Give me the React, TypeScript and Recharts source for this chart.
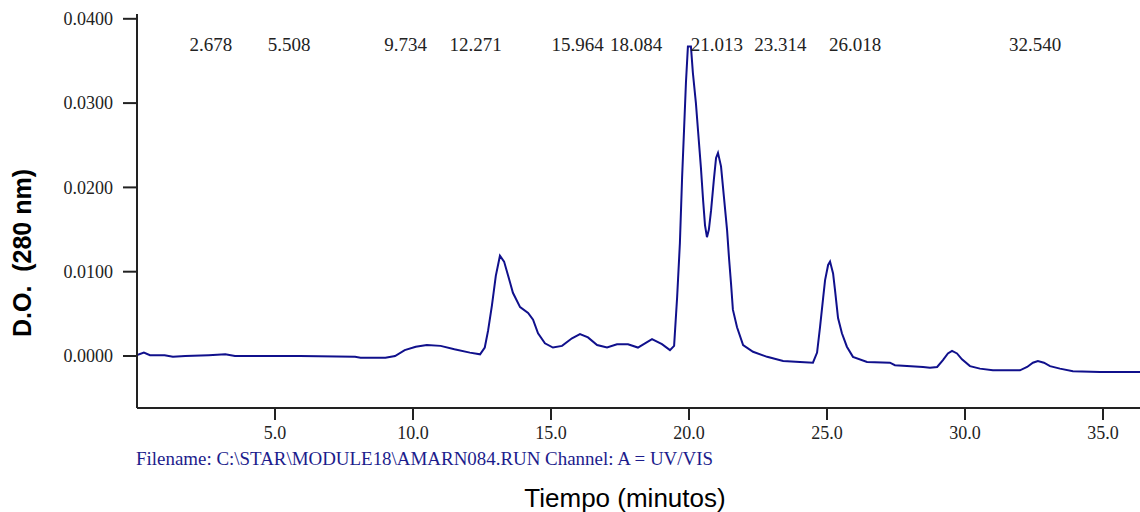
import { ComposedChart, Line, Scatter, XAxis, YAxis } from "recharts";

// retention time (min) and optical density
const times = [
  0, 0.25, 0.47, 1.0, 1.3, 1.75, 2.6, 3.2, 3.55, 5.9, 7.9, 8.1, 9.0, 9.35, 9.7,
  10.1, 10.5, 11.0, 11.5, 12.06, 12.43, 12.6, 12.72, 12.86, 13.0, 13.15, 13.3,
  13.45, 13.62, 13.88, 14.17, 14.35, 14.53, 14.78, 15.07, 15.4, 15.76, 16.05,
  16.34, 16.67, 17.03, 17.39, 17.79, 18.15, 18.66, 19.02, 19.31, 19.46, 19.57,
  19.67, 19.75, 19.82, 19.89, 19.96, 20.07, 20.14, 20.25, 20.33, 20.43, 20.51,
  20.58, 20.65, 20.72, 20.8, 20.9, 20.98, 21.05, 21.16, 21.27, 21.38, 21.45,
  21.52, 21.59, 21.74, 21.96, 22.32, 22.83, 23.41, 24.02, 24.49, 24.64, 24.75,
  24.86, 24.93, 25.04, 25.11, 25.22, 25.29, 25.4, 25.54, 25.72, 25.94, 26.45,
  27.28, 27.46, 28.48, 28.73, 28.99, 29.2, 29.38, 29.53, 29.71, 29.89, 30.18,
  30.54, 31.01, 31.99, 32.25, 32.46, 32.64, 32.86, 33.08, 33.44, 33.91, 34.89,
  36.34,
];
const od = [
  0.0001, 0.0004, 0.0001, 0.0001, -0.0001, 0.0, 0.0001, 0.0002, 0.0, 0.0,
  -0.0001, -0.0002, -0.0002, 0.0, 0.0007, 0.0011, 0.0013, 0.0012, 0.0008,
  0.0004, 0.0002, 0.001, 0.003, 0.006, 0.0095, 0.0119, 0.0112, 0.0095, 0.0075,
  0.0058, 0.0051, 0.0043, 0.0027, 0.0015, 0.001, 0.0012, 0.0021, 0.0026, 0.0022,
  0.0013, 0.001, 0.0014, 0.0014, 0.001, 0.002, 0.0014, 0.0007, 0.0012, 0.007,
  0.0134, 0.0212, 0.0268, 0.0325, 0.0367, 0.0367, 0.0336, 0.03, 0.0266, 0.0224,
  0.0185, 0.0155, 0.0141, 0.015, 0.0173, 0.0209, 0.0235, 0.0241, 0.0225, 0.0187,
  0.0149, 0.0116, 0.0087, 0.0055, 0.0034, 0.0013, 0.0005, -0.0001, -0.0006,
  -0.0007, -0.0008, 0.0004, 0.0035, 0.0069, 0.009, 0.0108, 0.0112, 0.0098,
  0.0078, 0.0045, 0.0027, 0.0011, -0.0001, -0.0007, -0.0008, -0.0011, -0.0013,
  -0.0014, -0.0013, -0.0005, 0.0003, 0.0006, 0.0003, -0.0004, -0.0012, -0.0015,
  -0.0017, -0.0017, -0.0013, -0.0008, -0.0006, -0.0008, -0.0012, -0.0015,
  -0.0018, -0.0019, -0.0019,
];

const peakTimes = [2.678, 5.508, 9.734, 12.271, 15.964, 18.084, 21.013, 23.314, 26.018, 32.54];
const peakLabels = ["2.678", "5.508", "9.734", "12.271", "15.964", "18.084", "21.013", "23.314", "26.018", "32.540"];

const xTicks = [5, 10, 15, 20, 25, 30, 35];
const yTicks = [0, 0.01, 0.02, 0.03, 0.04];

const trace = times.map((t, i) => ({ t, v: od[i] }));
const peaks = peakTimes.map((t, i) => ({ t, y: 0.0369, label: peakLabels[i] }));

const axisColor = "#222";
const tickFont = { fontFamily: "Liberation Serif", fontSize: 18, fill: "#222" };

const PeakLabel = (props: any) => (
  <text
    x={props.cx}
    y={props.cy}
    textAnchor="middle"
    dominantBaseline="central"
    fontFamily="Liberation Serif"
    fontSize={19}
    fill="#222"
  >
    {props.payload.label}
  </text>
);

export default function App() {
  return (
    <div style={{ position: "absolute", left: 0, top: 0, width: 1140, height: 512, background: "#fff" }}>
      <ComposedChart width={1140} height={512} margin={{ top: 14, right: 0, bottom: 0, left: 0 }}>
        <XAxis
          type="number"
          dataKey="t"
          domain={[0, 36.34]}
          ticks={xTicks}
          tickFormatter={(v) => v.toFixed(1)}
          height={104}
          tickSize={12}
          tickMargin={6}
          stroke={axisColor}
          strokeWidth={2}
          tick={tickFont}
          allowDataOverflow
        />
        <YAxis
          type="number"
          domain={[-0.00617, 0.04057]}
          ticks={yTicks}
          tickFormatter={(v) => v.toFixed(4)}
          width={137}
          tickSize={14}
          tickMargin={10}
          stroke={axisColor}
          strokeWidth={2}
          tick={tickFont}
          allowDataOverflow
        />
        <Line
          data={trace}
          dataKey="v"
          type="linear"
          stroke="#10108c"
          strokeWidth={2}
          dot={false}
          isAnimationActive={false}
        />
        <Scatter data={peaks} dataKey="y" shape={PeakLabel} isAnimationActive={false} />
      </ComposedChart>
      <svg width={1140} height={512} style={{ position: "absolute", left: 0, top: 0, pointerEvents: "none" }}>
        <text
          x={136}
          y={465}
          fontFamily="Liberation Serif"
          fontSize={18}
          fill="#1c1c8c"
          textLength={577}
          lengthAdjust="spacingAndGlyphs"
        >
          Filename: C:\STAR\MODULE18\AMARN084.RUN Channel: A = UV/VIS
        </text>
        <text x={625} y={507} textAnchor="middle" fontFamily="Liberation Sans" fontSize={26} fill="#000">
          Tiempo (minutos)
        </text>
        <text
          transform="translate(31, 253) rotate(-90)"
          textAnchor="middle"
          fontFamily="Liberation Sans"
          fontWeight="bold"
          fontSize={25}
          fill="#000"
          style={{ whiteSpace: "pre" }}
        >
          {"D.O.  (280 nm)"}
        </text>
      </svg>
    </div>
  );
}
